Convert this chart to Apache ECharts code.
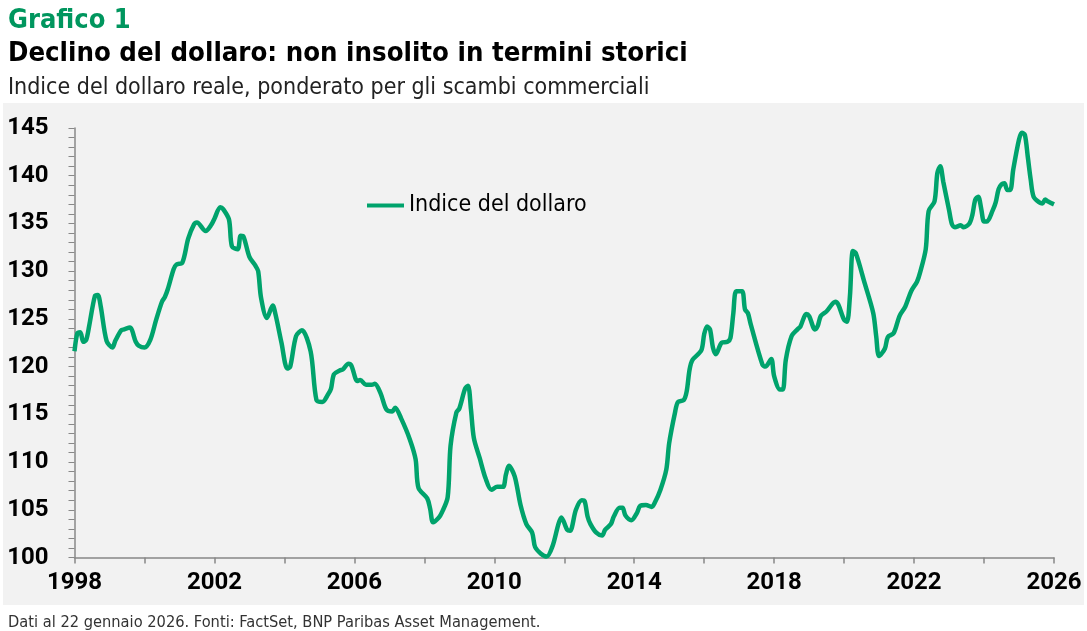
<!DOCTYPE html>
<html>
<head>
<meta charset="utf-8">
<script src="https://cdn.jsdelivr.net/npm/echarts@6/dist/echarts.min.js"></script>
<style>
html,body{margin:0;padding:0;background:#fff;}
#chart{width:1087px;height:631px;}
</style>
</head>
<body>
<div id="chart"></div>
<script>
// indice del dollaro reale (letture mensili dal grafico)
var months = [
  '1998-01','1998-02','1998-03','1998-04','1998-05','1998-06','1998-08','1998-09','1998-10','1998-12',
  '1999-02','1999-03','1999-05','1999-06','1999-08','1999-10','1999-11',
  '2000-01','2000-03','2000-05','2000-07','2000-08','2000-09','2000-11','2000-12',
  '2001-02','2001-04','2001-06','2001-07','2001-10','2001-12',
  '2002-01','2002-03','2002-04','2002-06','2002-07','2002-09','2002-10','2002-11',
  '2003-01','2003-03','2003-04','2003-05','2003-07','2003-09','2003-10','2003-12',
  '2004-02','2004-03','2004-05','2004-07','2004-10','2004-12',
  '2005-02','2005-04','2005-05','2005-06','2005-08','2005-09','2005-11','2005-12',
  '2006-02','2006-03','2006-05','2006-07','2006-08','2006-10','2006-12',
  '2007-02','2007-03','2007-05','2007-08','2007-10','2007-11',
  '2008-02','2008-03','2008-04','2008-06','2008-07','2008-09','2008-10','2008-12',
  '2009-01','2009-03','2009-04','2009-05','2009-06','2009-08','2009-10','2009-12',
  '2010-02','2010-04','2010-05','2010-06','2010-08','2010-10','2010-12',
  '2011-02','2011-03','2011-05','2011-07','2011-09','2011-11','2011-12',
  '2012-02','2012-03','2012-05','2012-07','2012-08','2012-09','2012-10','2012-12',
  '2013-02','2013-03','2013-05','2013-06','2013-08','2013-09','2013-10','2013-12',
  '2014-02','2014-03','2014-05','2014-07','2014-08','2014-10','2014-12',
  '2015-01','2015-03','2015-04','2015-06','2015-07','2015-08','2015-09','2015-12',
  '2016-01','2016-02','2016-03','2016-04','2016-05','2016-07','2016-09','2016-10','2016-11','2016-12',
  '2017-02','2017-03','2017-04','2017-05','2017-09','2017-10','2017-12',
  '2018-01','2018-03','2018-04','2018-05','2018-07','2018-09','2018-10','2018-12',
  '2019-01','2019-03','2019-04','2019-05','2019-07','2019-10','2019-11',
  '2020-01','2020-02','2020-03','2020-04','2020-05','2020-08','2020-11','2020-12',
  '2021-01','2021-03','2021-04','2021-06','2021-08','2021-10','2021-12',
  '2022-02','2022-03','2022-05','2022-06','2022-08','2022-09','2022-10','2022-11',
  '2023-01','2023-02','2023-03','2023-05','2023-06','2023-08','2023-09','2023-10','2023-11','2023-12',
  '2024-01','2024-02','2024-04','2024-05','2024-06','2024-07','2024-08','2024-09','2024-10','2024-11',
  '2025-01','2025-02','2025-03','2025-04','2025-05','2025-06','2025-08','2025-09','2025-10','2025-11',
  '2026-01'
];
var dollarIndex = [
  121.6,123.5,123.6,122.6,122.8,124.2,127.4,127.5,126.3,122.7,
  122.0,122.7,123.8,123.9,124.1,122.6,122.2,
  122.0,122.8,124.9,126.8,127.3,128.1,130.2,130.7,
  130.9,133.4,134.9,135.1,134.2,134.9,
  135.5,136.7,136.5,135.4,132.6,132.3,133.7,133.6,
  131.5,130.6,130.0,127.2,125.1,126.4,125.4,122.5,
  119.8,120.0,123.2,123.8,121.6,116.5,
  116.3,117.1,117.7,119.2,119.6,119.7,120.3,120.1,
  118.5,118.6,118.1,118.1,118.2,117.2,115.5,
  115.3,115.7,114.6,112.4,110.3,107.3,
  106.2,105.1,103.7,104.2,104.7,106.3,111.7,115.2,
  115.6,117.7,118.0,115.5,112.5,110.4,108.3,107.1,
  107.4,107.4,108.7,109.6,108.5,105.5,103.5,
  102.6,101.1,100.4,100.1,101.2,103.5,104.2,
  102.9,102.8,105.0,106.0,105.9,104.3,103.5,102.6,
  102.3,102.9,103.5,104.3,105.2,105.2,104.4,103.9,
  104.7,105.4,105.5,105.3,105.7,107.1,109.2,
  112.0,115.2,116.3,116.5,117.4,119.7,120.7,121.7,
  123.4,124.2,123.9,122.0,121.3,122.5,122.6,123.0,125.6,127.9,
  127.9,126.0,125.6,124.4,120.2,120.0,120.8,
  119.0,117.6,117.6,120.7,123.2,123.9,124.2,125.5,
  125.3,123.9,124.3,125.3,125.8,126.8,126.5,
  124.9,124.7,127.4,132.1,131.9,128.8,125.6,123.2,
  121.1,121.9,123.1,123.5,125.3,126.3,127.9,
  128.9,129.8,132.3,136.3,137.3,140.3,141.0,139.4,
  136.4,134.9,134.6,134.8,134.6,135.0,135.9,137.5,137.8,136.6,
  135.2,135.2,136.4,137.2,138.6,139.1,139.2,138.5,138.5,140.6,
  143.8,144.5,144.3,142.0,139.6,137.8,137.2,137.1,137.5,137.3,
  137.0
];
var yearTicks = [1998, 2026];
var valueTicks = [100, 145];

function toYear(m){
    var p = m.split('-');
    return +p[0] + (+p[1] - 1) / 12;
}
var seriesData = months.map(function (m, i) {
    return [toYear(m), dollarIndex[i]];
});

var green = '#00a36c';
var condensed = '"Liberation Sans Narrow","DejaVu Sans Condensed",sans-serif';
var chart = echarts.init(document.getElementById('chart'));
var option = {
    backgroundColor: '#fff',
    animation: false,
    graphic: [{
        type: 'rect',
        z: -10,
        shape: {x: 3, y: 103, width: 1081, height: 502},
        style: {fill: '#f2f2f2'}
    }],
    title: [{
        text: 'Grafico 1',
        left: 3, top: 2,
        textStyle: {color: '#00965e', fontFamily: condensed, fontWeight: 'bold', fontSize: 27}
    }, {
        text: 'Declino del dollaro: non insolito in termini storici',
        left: 3, top: 35,
        textStyle: {color: '#000', fontFamily: condensed, fontWeight: 'bold', fontSize: 27.3}
    }, {
        text: 'Indice del dollaro reale, ponderato per gli scambi commerciali',
        left: 3, top: 72,
        textStyle: {color: '#222', fontFamily: condensed, fontWeight: 'normal', fontSize: 23}
    }, {
        text: 'Dati al 22 gennaio 2026. Fonti: FactSet, BNP Paribas Asset Management.',
        left: 3, top: 610,
        textStyle: {color: '#333', fontFamily: condensed, fontWeight: 'normal', fontSize: 16.3}
    }],
    legend: {
        left: 362, top: 189,
        icon: 'rect',
        itemWidth: 37, itemHeight: 4,
        textStyle: {color: '#000', fontFamily: condensed, fontSize: 23},
        data: ['Indice del dollaro']
    },
    grid: {
        left: 74.5, right: 33, top: 128, bottom: 73.5
    },
    xAxis: {
        type: 'value',
        min: yearTicks[0], max: yearTicks[1], interval: 2,
        axisLine: {lineStyle: {color: '#888', width: 1.5}},
        axisTick: {length: 6, lineStyle: {color: '#888', width: 1.5}},
        splitLine: {show: false},
        axisLabel: {
            margin: 13,
            color: '#000', fontSize: 24, fontWeight: 'bold', fontFamily: 'Roboto, sans-serif',
            formatter: function (v) { return v % 4 === 2 ? String(v) : ''; }
        }
    },
    yAxis: {
        type: 'value',
        min: valueTicks[0], max: valueTicks[1], interval: 5,
        axisLine: {show: true, lineStyle: {color: '#888', width: 1.5}},
        axisTick: {show: true, length: 6, lineStyle: {color: '#888', width: 1}},
        minorTick: {show: true, splitNumber: 5, length: 6, lineStyle: {color: '#888', width: 1}},
        splitLine: {show: false},
        axisLabel: {
            margin: 26,
            color: '#000', fontSize: 24, fontWeight: 'bold', fontFamily: 'Roboto, sans-serif'
        }
    },
    series: [{
        name: 'Indice del dollaro',
        type: 'line',
        smooth: 0.3,
        showSymbol: false,
        symbol: 'none',
        color: green,
        lineStyle: {color: green, width: 4.5},
        data: seriesData
    }]
};
chart.setOption(option);
</script>
</body>
</html>
